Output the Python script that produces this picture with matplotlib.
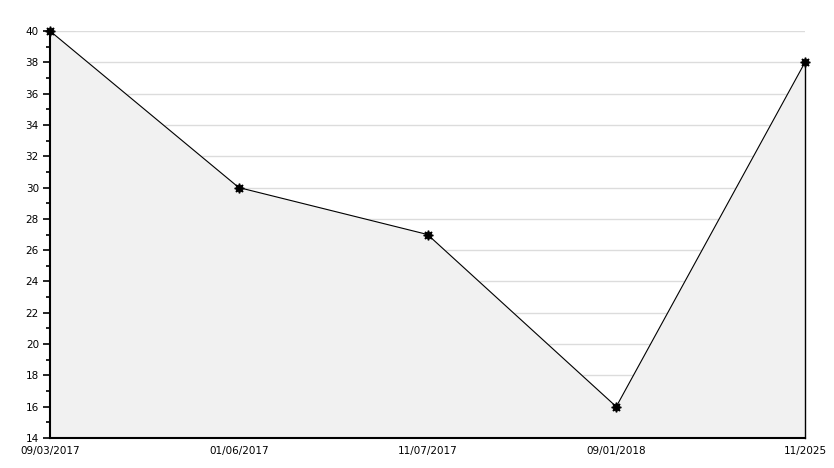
import matplotlib
matplotlib.use('Agg')
import matplotlib.pyplot as plt
from matplotlib.ticker import MultipleLocator

# --- dados ---
rotulos = ["09/03/2017", "01/06/2017", "11/07/2017", "09/01/2018", "11/2025"]
valores = [40, 30, 27, 16, 38]

fig = plt.figure(figsize=(8.34, 4.68), dpi=100)
ax = fig.add_axes([50 / 834, 1 - 438 / 468, 755 / 834, 407 / 468])

x = list(range(len(valores)))

# area preenchida sob a linha
ax.fill_between(x, valores, 14, color='#f1f1f1', zorder=1)
ax.plot([x[-1], x[-1]], [14, valores[-1]], color='black', linewidth=1,
        zorder=2, clip_on=False)
ax.plot(x, valores, color='black', linewidth=0.8, marker=(8, 1, 0),
        markersize=7, zorder=3, clip_on=False)

ax.set_xlim(0, len(valores) - 1)
ax.set_ylim(14, 40)
ax.set_xticks(x)
ax.set_xticklabels(rotulos)
ax.yaxis.set_major_locator(MultipleLocator(2))
ax.yaxis.set_minor_locator(MultipleLocator(1))
ax.grid(axis='y', color='#dcdcdc', linewidth=1, zorder=0)
ax.set_axisbelow(True)

for lado in ['top', 'right']:
    ax.spines[lado].set_visible(False)
ax.spines['left'].set_linewidth(1.5)
ax.spines['bottom'].set_linewidth(1.5)

ax.tick_params(axis='y', which='major', direction='out', length=5, width=1.2,
               labelsize=7.5, pad=3)
ax.tick_params(axis='y', which='minor', direction='out', length=3, width=1.2)
ax.tick_params(axis='x', direction='in', length=5, width=1.2, labelsize=7.5, pad=6)

fig.savefig('out.png', dpi=100, facecolor='white')
